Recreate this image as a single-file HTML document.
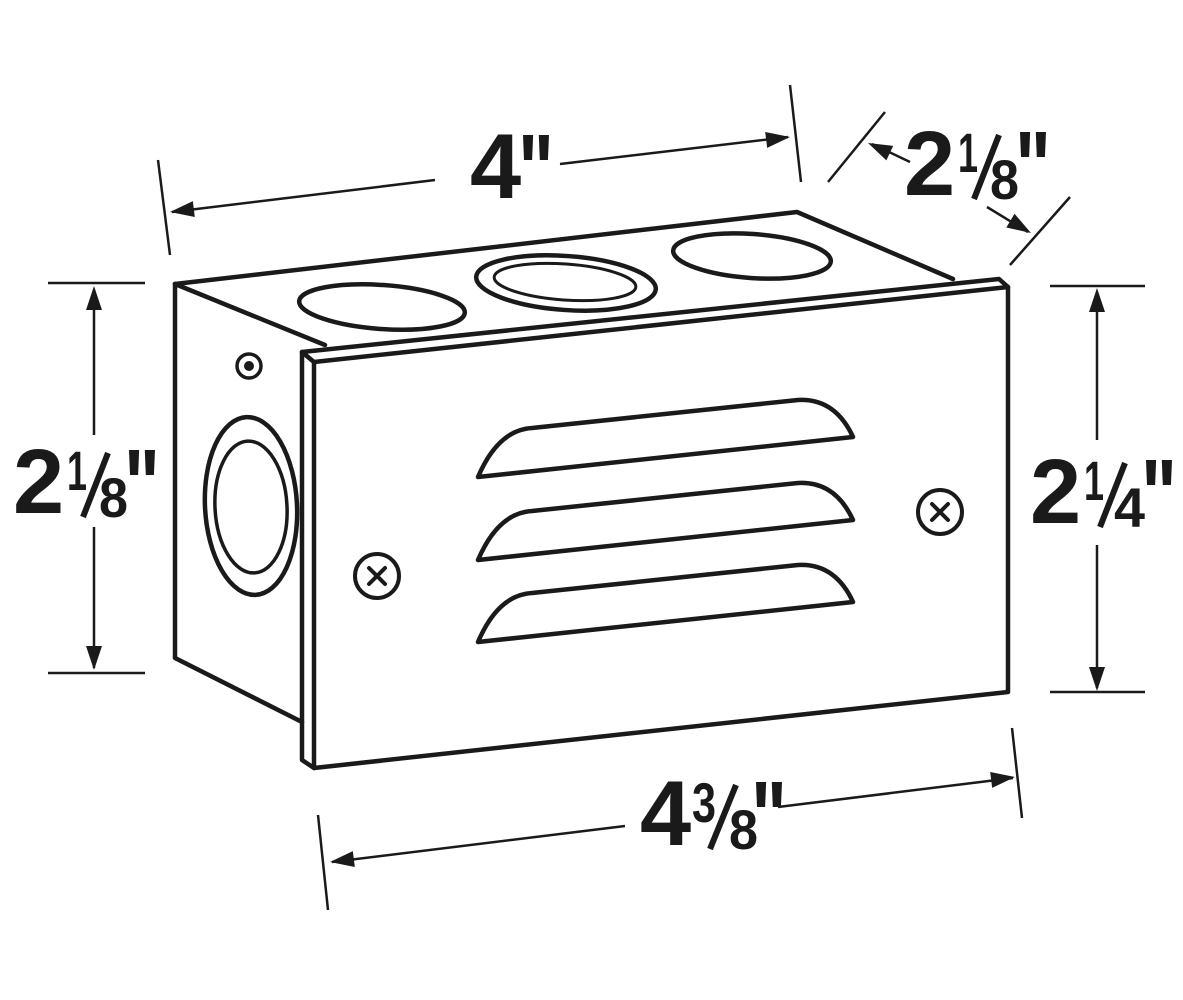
<!DOCTYPE html>
<html><head><meta charset="utf-8"><style>
html,body{margin:0;padding:0;background:#fff;width:1183px;height:1000px;overflow:hidden}
text{font-family:"Liberation Sans",sans-serif;font-weight:bold;fill:#1a1a1a}
</style></head><body>
<svg width="1183" height="1000" viewBox="0 0 1183 1000" xmlns="http://www.w3.org/2000/svg">
<defs>
<g id="arr"><polygon points="0,0 -24,-8 -24,8" fill="#1a1a1a"/></g>
</defs>
<g stroke="#1a1a1a" stroke-width="4.5" fill="none" stroke-linejoin="round" stroke-linecap="round">
<path d="M175,284 L797,212 L953,279"/>
<path d="M175,284 L175,658 L302,722"/>
<path d="M175,284 L325,345"/>
<path d="M302,352 L999,279 L1008,287 L314,362 Z"/>
<path d="M302,352 L302,760 L314,768 L314,362"/>
<path d="M1008,287 L1008,692 L314,768"/>
<ellipse cx="382" cy="307" rx="83" ry="22" transform="rotate(4 382 307)"/>
<ellipse cx="566" cy="283" rx="90" ry="27" transform="rotate(4 566 283)"/>
<ellipse cx="565" cy="282" rx="71" ry="18" stroke-width="3" transform="rotate(4 565 282)"/>
<ellipse cx="752" cy="256" rx="79" ry="22" transform="rotate(4 752 256)"/>
<ellipse cx="251" cy="506" rx="46" ry="89" transform="rotate(-3 251 506)"/>
<ellipse cx="251" cy="507" rx="36" ry="66" stroke-width="3.5" transform="rotate(-3 251 507)"/>
<circle cx="249" cy="366" r="12" stroke-width="3.5"/>
<circle cx="377" cy="576" r="22" stroke-width="4"/>
<path d="M369,568 L385,584 M385,568 L369,584" stroke-width="4"/>
<circle cx="940" cy="512" r="22" stroke-width="4"/>
<path d="M932,504 L948,520 M948,504 L932,520" stroke-width="4"/>
<path id="lv" d="M478,477 Q498,430 532,428 L798,400 Q835,398 853,437 Z"/>
<use href="#lv" transform="translate(0,83)"/>
<use href="#lv" transform="translate(0,165)"/>
</g>
<circle cx="249" cy="366" r="5" fill="#1a1a1a"/>
<g stroke="#1a1a1a" stroke-width="2.5" fill="none">
<path d="M158,160 L170,255 M790,85 L801,182"/>
<path d="M172,212 L435,180 M560,164 L788,137"/>
<path d="M828,182 L885,112 M1010,265 L1070,197"/>
<path d="M872,144 L910,162 M987,207 L1028,232"/>
<path d="M48,283 L145,283 M48,673 L145,673"/>
<path d="M94,290 L94,435 M94,527 L94,668"/>
<path d="M1050,286 L1145,286 M1050,692 L1145,692"/>
<path d="M1097,292 L1097,440 M1097,545 L1097,688"/>
<path d="M1012,728 L1022,818 M318,815 L328,910"/>
<path d="M332,862 L625,826 M778,807 L1013,778"/>
</g>
<use href="#arr" transform="translate(170,212) rotate(173)"/>
<use href="#arr" transform="translate(790,137) rotate(-7)"/>
<use href="#arr" transform="translate(868,143) rotate(205)"/>
<use href="#arr" transform="translate(1031,233) rotate(31)"/>
<use href="#arr" transform="translate(94,286) rotate(-90)"/>
<use href="#arr" transform="translate(94,670) rotate(90)"/>
<use href="#arr" transform="translate(1097,288) rotate(-90)"/>
<use href="#arr" transform="translate(1097,691) rotate(90)"/>
<use href="#arr" transform="translate(330,862) rotate(173)"/>
<use href="#arr" transform="translate(1015,777) rotate(-7)"/>
<text x="470" y="198" font-size="92">4</text>
<text x="518" y="204" font-size="100" textLength="36" lengthAdjust="spacingAndGlyphs">"</text>
<g transform="translate(13,513)">
<text x="0" y="0" font-size="92">2</text>
<text x="54" y="-23" font-size="56" textLength="20" lengthAdjust="spacingAndGlyphs">1</text>
<path d="M70,4 L95,-60" stroke="#1a1a1a" stroke-width="6"/>
<text x="86" y="4" font-size="56" textLength="29" lengthAdjust="spacingAndGlyphs">8</text>
<text x="111" y="6" font-size="100" textLength="36" lengthAdjust="spacingAndGlyphs">"</text>
</g>
<g transform="translate(904,195)">
<text x="0" y="0" font-size="92">2</text>
<text x="54" y="-23" font-size="56" textLength="20" lengthAdjust="spacingAndGlyphs">1</text>
<path d="M70,4 L95,-60" stroke="#1a1a1a" stroke-width="6"/>
<text x="86" y="4" font-size="56" textLength="29" lengthAdjust="spacingAndGlyphs">8</text>
<text x="111" y="6" font-size="100" textLength="36" lengthAdjust="spacingAndGlyphs">"</text>
</g>
<g transform="translate(1030,523)">
<text x="0" y="0" font-size="92">2</text>
<text x="54" y="-23" font-size="56" textLength="20" lengthAdjust="spacingAndGlyphs">1</text>
<path d="M70,4 L95,-60" stroke="#1a1a1a" stroke-width="6"/>
<text x="84" y="4" font-size="56" textLength="31" lengthAdjust="spacingAndGlyphs">4</text>
<text x="111" y="6" font-size="100" textLength="36" lengthAdjust="spacingAndGlyphs">"</text>
</g>
<g transform="translate(640,845)">
<text x="0" y="0" font-size="92">4</text>
<text x="52" y="-23" font-size="56" textLength="24" lengthAdjust="spacingAndGlyphs">3</text>
<path d="M70,4 L96,-60" stroke="#1a1a1a" stroke-width="6"/>
<text x="89" y="4" font-size="56" textLength="29" lengthAdjust="spacingAndGlyphs">8</text>
<text x="111" y="6" font-size="100" textLength="36" lengthAdjust="spacingAndGlyphs">"</text>
</g>
</svg>
</body></html>
